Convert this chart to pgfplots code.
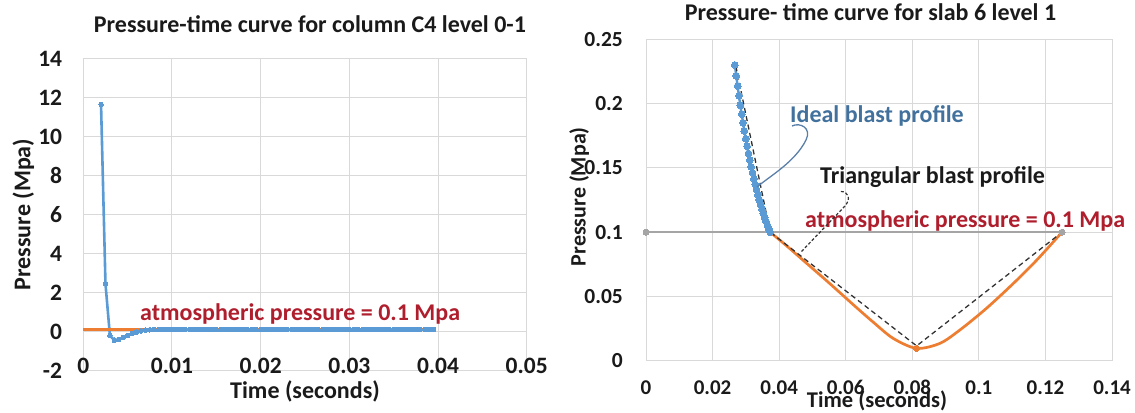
\documentclass[border=0pt]{standalone}
\usepackage{pgfplots}
\pgfplotsset{compat=1.18}
\usepackage{fontspec}
\setmainfont{Carlito}
\definecolor{xblue}{HTML}{5B9BD5}
\definecolor{xorange}{HTML}{ED7D31}
\definecolor{xgrey}{HTML}{A5A5A5}
\definecolor{gridc}{HTML}{D9D9D9}
\definecolor{atmred}{RGB}{175,30,45}
\definecolor{idealblue}{HTML}{41719C}
\definecolor{callblue}{HTML}{5A7FA8}
\definecolor{dashc}{HTML}{333333}
\definecolor{txt}{HTML}{1A1A1A}
\newcommand\fs[1]{\fontsize{#1bp}{#1bp}\selectfont\bfseries}
\pgfplotsset{
  excel/.style={
    scale only axis, anchor=south west, clip=false,
    grid=major, grid style={draw=gridc, line width=1bp},
    axis line style={draw=gridc, line width=1bp},
    major tick length=0pt, tick style={draw=none},
    scaled ticks=false,
    /pgf/number format/assume math mode=true,
    /pgf/number format/fixed, /pgf/number format/precision=2,
    ticklabel style={text=txt, inner sep=0pt,
      /pgf/number format/assume math mode=true,
      /pgf/number format/fixed, /pgf/number format/precision=2},
    label style={text=txt, inner sep=0pt}, title style={text=txt, inner sep=0pt},
  }
}
\begin{document}
\begin{tikzpicture}[x=1bp,y=1bp]
\useasboundingbox (0,0) rectangle (1135,412);
% ---------------- left chart ----------------
\begin{axis}[excel, at={(83.3bp,41.5bp)}, width=443.4bp, height=312bp,
  xmin=0, xmax=0.05, ymin=-2, ymax=14,
  xtick={0,0.01,0.02,0.03,0.04,0.05}, ytick={-2,0,2,4,6,8,10,12,14},
  xticklabel style={font=\fs{23.5}, anchor=base, yshift=-2.5bp},
  yticklabel style={font=\fs{23.5}, anchor=east, xshift=-21bp},
  title={Pressure-time curve for column C4 level 0-1},
  title style={font=\fs{24}, at={(axis description cs:0.5113,1.064)}, anchor=base},
  xlabel={Time (seconds)},
  xlabel style={font=\fs{24}, at={(axis description cs:0.5,-0.09)}, anchor=base},
  ylabel={Pressure (Mpa)},
  ylabel style={font=\fs{24}, at={(axis description cs:-0.1193,0.5)}, anchor=base},
]
\addplot[xblue, line width=2.6bp, mark=*, mark size=2.3bp,
  mark options={fill=xblue, draw=xblue, line width=0pt}] coordinates {
 (0.0020,11.65) (0.0025,2.45) (0.0030,-0.20) (0.0035,-0.45) (0.0040,-0.40)
 (0.0045,-0.30) (0.0050,-0.20) (0.0055,-0.10) (0.0060,-0.03) (0.0065,0.03)
 (0.0070,0.07) (0.0075,0.09) (0.0080,0.10) (0.0085,0.10) (0.0090,0.10)
 (0.0095,0.10) (0.0100,0.10) (0.0105,0.10) (0.0110,0.10) (0.0115,0.10)
 (0.0120,0.10) (0.0125,0.10) (0.0130,0.10) (0.0135,0.10) (0.0140,0.10)
 (0.0145,0.10) (0.0150,0.10) (0.0155,0.10) (0.0160,0.10) (0.0165,0.10)
 (0.0170,0.10) (0.0175,0.10) (0.0180,0.10) (0.0185,0.10) (0.0190,0.10)
 (0.0195,0.10) (0.0200,0.10) (0.0205,0.10) (0.0210,0.10) (0.0215,0.10)
 (0.0220,0.10) (0.0225,0.10) (0.0230,0.10) (0.0235,0.10) (0.0240,0.10)
 (0.0245,0.10) (0.0250,0.10) (0.0255,0.10) (0.0260,0.10) (0.0265,0.10)
 (0.0270,0.10) (0.0275,0.10) (0.0280,0.10) (0.0285,0.10) (0.0290,0.10)
 (0.0295,0.10) (0.0300,0.10) (0.0305,0.10) (0.0310,0.10) (0.0315,0.10)
 (0.0320,0.10) (0.0325,0.10) (0.0330,0.10) (0.0335,0.10) (0.0340,0.10)
 (0.0345,0.10) (0.0350,0.10) (0.0355,0.10) (0.0360,0.10) (0.0365,0.10)
 (0.0370,0.10) (0.0375,0.10) (0.0380,0.10) (0.0385,0.10) (0.0390,0.10)
 (0.0395,0.10)};
\addplot[xorange, line width=3.6bp, no marks] coordinates {(0,0.1) (0.0395,0.1)};
\end{axis}
% ---------------- right chart ----------------
\begin{axis}[excel, at={(646bp,51.3bp)}, width=466bp, height=321.4bp,
  xmin=0, xmax=0.14, ymin=0, ymax=0.25,
  xtick={0,0.02,0.04,0.06,0.08,0.1,0.12,0.14},
  ytick={0,0.05,0.1,0.15,0.2,0.25},
  xticklabel style={font=\fs{21}, anchor=north, yshift=-19.5bp},
  yticklabel style={font=\fs{21.5}, anchor=east, xshift=-23bp},
  title={Pressure- time curve for slab 6 level 1},
  title style={font=\fs{24}, at={(axis description cs:0.4818,1.041)}, anchor=base},
  xlabel={Time (seconds)},
  xlabel style={font=\fs{22.5}, at={(axis description cs:0.4957,-0.1456)}, anchor=base},
  ylabel={Pressure (Mpa)},
  ylabel style={font=\fs{22}, at={(axis description cs:-0.1294,0.5103)}, anchor=base},
]
\addplot[xgrey, line width=2bp, mark=*, mark size=3bp,
  mark options={fill=xgrey, draw=xgrey, line width=0pt}] coordinates {(0,0.1) (0.125,0.1)};
\addplot[xorange, line width=2.7bp, smooth, no marks] coordinates {
 (0.0373,0.1000) (0.0423,0.0892) (0.0473,0.0779) (0.0553,0.0598) (0.0623,0.0435)
 (0.0683,0.0299) (0.0743,0.0173) (0.0813,0.0096) (0.0883,0.0135) (0.0943,0.0239)
 (0.1023,0.0408) (0.1104,0.0602) (0.1174,0.0783) (0.1250,0.1000)};
\addplot[only marks, mark=*, mark size=3bp, mark options={fill=xorange, draw=xorange, line width=0pt}]
 coordinates {(0.0373,0.1) (0.0813,0.0096)};
\addplot[xblue, line width=2.4bp, mark=*, mark size=3.4bp,
  mark options={fill=xblue, draw=xblue, line width=0pt}] coordinates {
 (0.02670,0.2300) (0.02711,0.2216) (0.02752,0.2136) (0.02792,0.2060) (0.02833,0.1986)
 (0.02874,0.1917) (0.02915,0.1850) (0.02955,0.1786) (0.02996,0.1726) (0.03037,0.1668)
 (0.03078,0.1612) (0.03118,0.1559) (0.03159,0.1509) (0.03200,0.1461) (0.03241,0.1415)
 (0.03282,0.1371) (0.03322,0.1329) (0.03363,0.1289) (0.03404,0.1250) (0.03445,0.1214)
 (0.03485,0.1179) (0.03526,0.1146) (0.03567,0.1114) (0.03608,0.1083) (0.03648,0.1054)
 (0.03689,0.1026) (0.03730,0.1000)};
\addplot[dashc, line width=1.3bp, dash pattern=on 5bp off 3.5bp] coordinates {
 (0.0270,0.229) (0.0373,0.1) (0.0813,0.0115) (0.125,0.1)};
\end{axis}
% ---------------- annotations ----------------
\node[anchor=base west, inner sep=0pt, text=atmred, font=\fs{24}] at (140,92) {atmospheric pressure = 0.1 Mpa};
\node[anchor=base west, inner sep=0pt, text=atmred, font=\fs{24}] at (805,185) {atmospheric pressure = 0.1 Mpa};
\node[anchor=base west, inner sep=0pt, text=idealblue, font=\fs{24}] at (790,290) {Ideal blast profile};
\node[anchor=base west, inner sep=0pt, text=txt, font=\fs{24}] at (820,228.5) {Triangular blast profile};
\draw[callblue, line width=1.3bp] (792,286) .. controls (800,290) and (812,284) .. (806,272)
   .. controls (795,250) and (770,236) .. (757,225);
\draw[dashc, line width=1.2bp, dash pattern=on 3bp off 2bp] (801.5,160.5) -- (845,206)
   .. controls (851,213) and (849,221) .. (840,220.5);
\end{tikzpicture}
\end{document}
